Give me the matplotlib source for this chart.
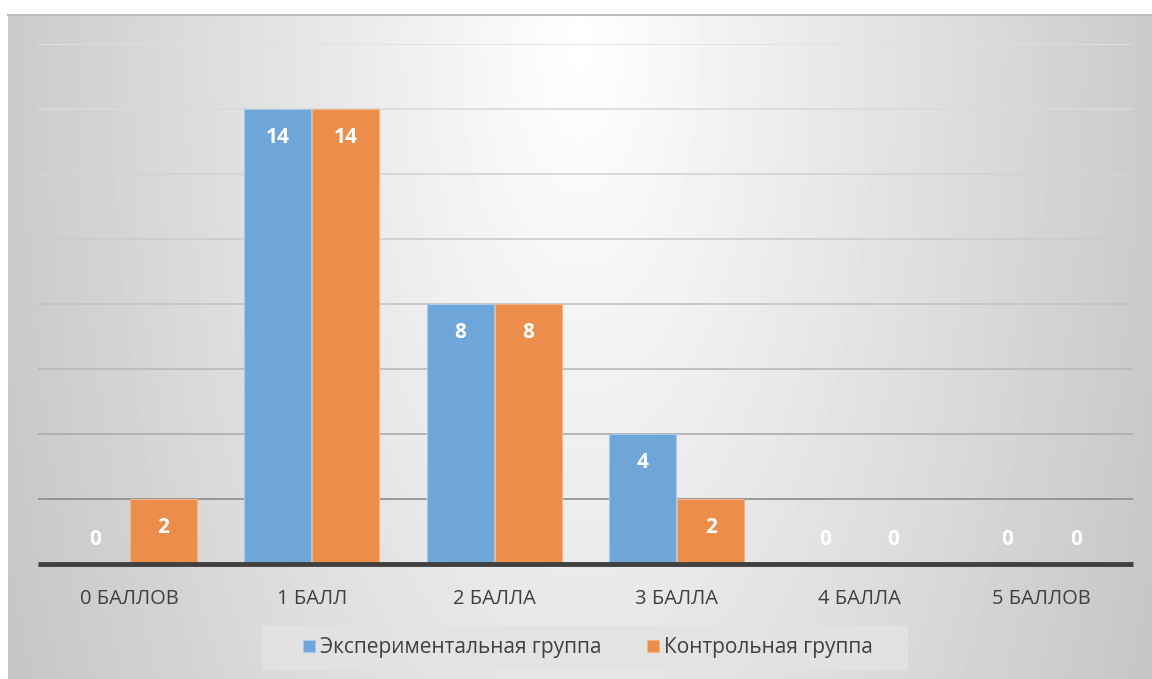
import numpy as np
import matplotlib.pyplot as plt
from matplotlib.patches import Rectangle

plt.rcParams['font.family'] = ['Open Sans', 'DejaVu Sans']

categories = ['0 БАЛЛОВ', '1 БАЛЛ', '2 БАЛЛА', '3 БАЛЛА', '4 БАЛЛА', '5 БАЛЛОВ']
exp_group = [0, 14, 8, 4, 0, 0]
ctrl_group = [2, 14, 8, 2, 0, 0]
series_names = ['Экспериментальная группа', 'Контрольная группа']

W, H = 1152, 679
fig = plt.figure(figsize=(W / 100, H / 100), dpi=100)
fig.patch.set_facecolor('white')

# soft radial grey background of the chart area
bg = fig.add_axes([8 / W, 0, 1 - 8 / W, (H - 15) / H])
yy, xx = np.mgrid[15:H, 8:W]
r = np.sqrt(((xx - 580) / 600.0) ** 2 + ((yy - 40) / 1400.0) ** 2)
shade = np.clip(1 - 0.215 * r, 0, 1)
bg.imshow(shade, cmap='gray', vmin=0, vmax=1, aspect='auto',
          extent=[0, 1, 0, 1], interpolation='bilinear')
bg.axis('off')
fig.add_artist(plt.Line2D([8 / W, 1], [(H - 14.5) / H] * 2, color='#bdbdbd', lw=1.5))

ax = fig.add_axes([38 / W, (H - 564) / H, (1133 - 38) / W, 520 / H])
ax.set_facecolor('none')
ax.set_xlim(-0.5, len(categories) - 0.5)
ax.set_ylim(0, 16)

# gridlines get lighter towards the bright top of the chart
for lvl in range(2, 17, 2):
    t = (lvl - 2) / 14
    g = 0.55 + 0.33 * np.sqrt(t)
    ax.axhline(lvl, color=(g, g, g), lw=1.2, zorder=1)

x = np.arange(len(categories))
w = 0.368
blue, orange = '#6fa6d9', '#ec8d4c'
b1 = ax.bar(x - w / 2 - 0.003, exp_group, w, color=blue, edgecolor='#a9c9ea', lw=0.8, zorder=2)
b2 = ax.bar(x + w / 2 + 0.003, ctrl_group, w, color=orange, edgecolor='#f3b48a', lw=0.8, zorder=2)

for bars, vals in ((b1, exp_group), (b2, ctrl_group)):
    for rect, v in zip(bars, vals):
        cx = rect.get_x() + rect.get_width() / 2
        off = -20.2 if v > 0 else 17.3
        ax.annotate(str(v), (cx, v), xytext=(0, off), textcoords='offset points',
                    ha='center', va='center', color='white', fontsize=15,
                    fontweight='bold', zorder=4)

ax.axhline(0, color='#404040', lw=3.5, zorder=3, clip_on=False, solid_capstyle='butt')
for s in ax.spines.values():
    s.set_visible(False)
ax.set_yticks([])
ax.set_xticks(x)
ax.set_xticklabels(categories, fontsize=14.5, color='#404040')
ax.tick_params(axis='x', length=0, pad=18)

# legend box
fig.add_artist(Rectangle((262 / W, (H - 670) / H), 646 / W, 44 / H,
                         transform=fig.transFigure, facecolor='#e3e3e3',
                         edgecolor='none', alpha=0.9))
leg = fig.legend([b1, b2], series_names, loc='center', ncol=2,
                 bbox_to_anchor=(588 / W, (H - 648) / H), frameon=False,
                 fontsize=15, handlelength=0.55, handleheight=0.55,
                 handletextpad=0.25, columnspacing=2.2)
for t in leg.get_texts():
    t.set_color('#404040')

fig.savefig('out.png', dpi=100)
